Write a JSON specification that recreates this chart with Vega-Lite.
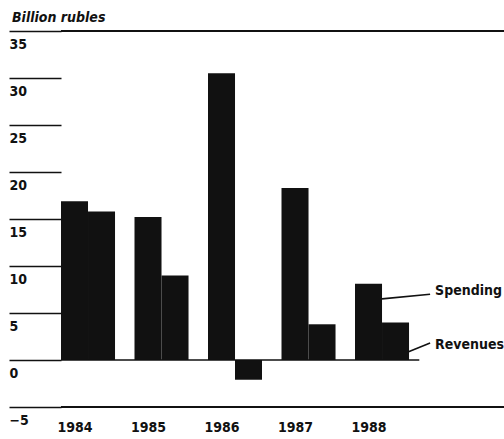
{
  "$schema": "https://vega.github.io/schema/vega-lite/v6.json",
  "autosize": {"type": "none"},
  "padding": {"left": 61, "top": 31, "right": 0, "bottom": 32},
  "width": 443,
  "height": 376,
  "background": "white",
  "config": {"view": {"stroke": null}, "font": "DejaVu Sans Condensed"},
  "title": {
    "text": "Billion rubles",
    "anchor": "start",
    "frame": "group",
    "dx": -49,
    "dy": 16,
    "offset": 10,
    "baseline": "alphabetic",
    "font": "DejaVu Sans Condensed",
    "fontSize": 14,
    "fontStyle": "italic",
    "fontWeight": "bold",
    "color": "#111"
  },
  "datasets": {
    "bars": [
      {"year": "1984", "series": "Spending", "value": 16.9},
      {"year": "1984", "series": "Revenues", "value": 15.8},
      {"year": "1985", "series": "Spending", "value": 15.2},
      {"year": "1985", "series": "Revenues", "value": 9.0},
      {"year": "1986", "series": "Spending", "value": 30.5},
      {"year": "1986", "series": "Revenues", "value": -2.1},
      {"year": "1987", "series": "Spending", "value": 18.3},
      {"year": "1987", "series": "Revenues", "value": 3.8},
      {"year": "1988", "series": "Spending", "value": 8.1},
      {"year": "1988", "series": "Revenues", "value": 4.0}
    ],
    "labels": [
      {"year": "1988", "label": "Spending", "y": 7.3, "y1": 6.5, "y2": 7.0},
      {"year": "1988", "label": "Revenues", "y": 1.6, "y1": 0.85, "y2": 1.8}
    ],
    "lines": [
      {"year": "1984", "v": 35, "full": true},
      {"year": "1984", "v": -5, "full": true}
    ]
  },
  "layer": [
    {
      "data": {"name": "bars"},
      "mark": {"type": "bar", "color": "#111", "stroke": null},
      "encoding": {
        "x": {
          "field": "year",
          "type": "nominal",
          "scale": {"paddingInner": 0.265, "paddingOuter": 0.646, "align": 0},
          "axis": {
            "orient": "bottom",
            "title": null,
            "ticks": false,
            "domain": false,
            "labelAngle": 0,
            "labelPadding": 13,
            "labelBaseline": "top",
            "labelOffset": -13,
            "labelFont": "DejaVu Sans Condensed",
            "labelFontSize": 14,
            "labelFontWeight": "bold",
            "labelColor": "#111"
          }
        },
        "xOffset": {
          "field": "series",
          "type": "nominal",
          "sort": ["Spending", "Revenues"],
          "scale": {"paddingInner": 0, "paddingOuter": 0}
        },
        "y": {
          "field": "value",
          "type": "quantitative",
          "scale": {"domain": [-5, 35], "nice": false, "zero": false},
          "axis": {
            "title": null,
            "values": [-5, 0, 5, 10, 15, 20, 25, 30, 35],
            "format": "d",
            "grid": false,
            "domain": false,
            "tickSize": 52,
            "tickWidth": 1.6,
            "tickColor": "#111",
            "labelPadding": 0,
            "labelAlign": "left",
            "labelBaseline": "top",
            "labelOffset": 6,
            "labelFont": "DejaVu Sans Condensed",
            "labelFontSize": 14,
            "labelFontWeight": "bold",
            "labelColor": "#111"
          }
        }
      }
    },
    {
      "data": {"name": "lines"},
      "mark": {"type": "rule", "color": "#111", "strokeWidth": 1.8},
      "encoding": {"y": {"field": "v", "type": "quantitative"}}
    },
    {
      "data": {"values": [{"year": "1984", "v": 0}]},
      "mark": {"type": "rule", "color": "#111", "strokeWidth": 1.6},
      "encoding": {
        "y": {"field": "v", "type": "quantitative"},
        "x": {"datum": "1984", "type": "nominal", "bandPosition": 0},
        "x2": {"datum": "1988", "bandPosition": 1.19}
      }
    },
    {
      "data": {"name": "labels"},
      "mark": {"type": "rule", "color": "#111", "strokeWidth": 1.6},
      "encoding": {
        "x": {"field": "year", "type": "nominal", "bandPosition": 0.5},
        "x2": {"datum": "1988", "bandPosition": 1.39},
        "y": {"field": "y1", "type": "quantitative"},
        "y2": {"field": "y2"}
      },
      "transform": [{"filter": "datum.label == 'Spending'"}]
    },
    {
      "data": {"name": "labels"},
      "mark": {"type": "rule", "color": "#111", "strokeWidth": 1.6},
      "encoding": {
        "x": {"field": "year", "type": "nominal", "bandPosition": 0.98},
        "x2": {"datum": "1988", "bandPosition": 1.39},
        "y": {"field": "y1", "type": "quantitative"},
        "y2": {"field": "y2"}
      },
      "transform": [{"filter": "datum.label == 'Revenues'"}]
    },
    {
      "data": {"name": "labels"},
      "mark": {"type": "text", "align": "left", "baseline": "middle", "dx": 5, "font": "DejaVu Sans Condensed", "fontSize": 14, "fontWeight": "bold", "color": "#111"},
      "encoding": {
        "x": {"field": "year", "type": "nominal", "bandPosition": 1.39},
        "y": {"field": "y", "type": "quantitative"},
        "text": {"field": "label"}
      }
    }
  ]
}
